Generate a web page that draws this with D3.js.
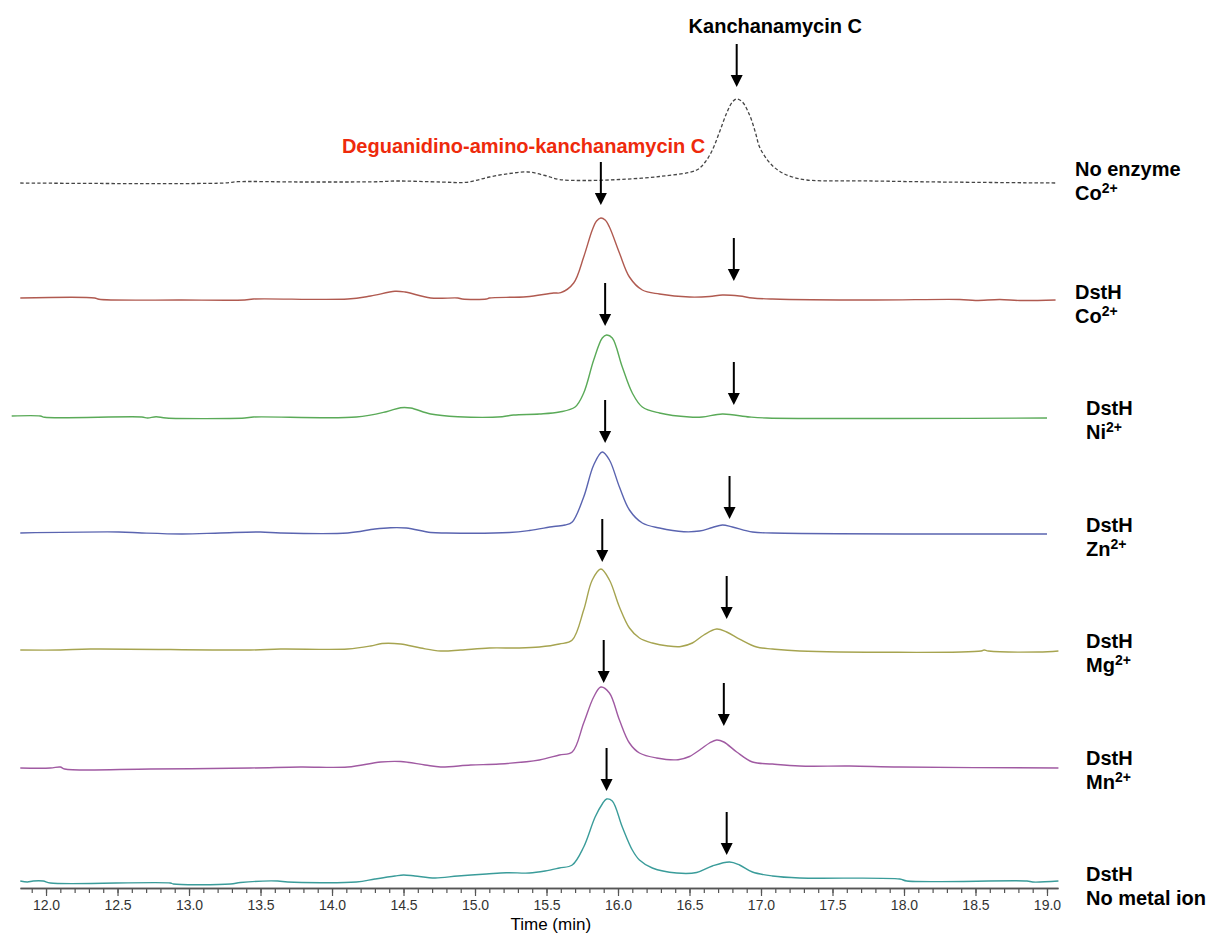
<!DOCTYPE html>
<html>
<head>
<meta charset="utf-8">
<script src="https://cdn.jsdelivr.net/npm/d3@7/dist/d3.min.js"></script>
<style>
  html, body { margin: 0; padding: 0; background: #fff; }
  svg { display: block; font-family: "Liberation Sans", Arial, sans-serif; }
</style>
</head>
<body>
<svg id="chart" width="1209" height="938"></svg>
<script>
// HPLC traces (time in min, absorbance in mAU above each trace's baseline)
const traceIds = ["noEnzymeCo", "dsthCo", "dsthNi", "dsthZn", "dsthMg", "dsthMn", "dsthNone"];

const noEnzymeCo = [
  [11.82, 0], [13.25, 0], [13.34, 1.3], [13.78, 1], [14.33, 1.3], [14.44, 2], [14.76, 1],
  [14.94, 0.7], [15.10, 6], [15.24, 9.5], [15.37, 11], [15.49, 7.5], [15.59, 3.5], [15.77, 2.5],
  [16.01, 3.5], [16.29, 6.5], [16.55, 13], [16.61, 21], [16.66, 33], [16.71, 51], [16.76, 70],
  [16.80, 81], [16.83, 84], [16.87, 81], [16.92, 68], [16.96, 51], [16.99, 36], [17.04, 24],
  [17.09, 16], [17.15, 10], [17.22, 6], [17.32, 3], [17.78, 2], [18.25, 1], [19.06, 0]
];

const dsthCo = [
  [11.82, 1.5], [12.34, 1.5], [12.37, 0.2], [12.95, -0.5], [13.39, -0.5], [13.45, 0.5],
  [14.11, 0.5], [14.27, 3.5], [14.44, 8.2], [14.51, 7.5], [14.69, 1.5], [14.88, 1.5], [14.91, 0.5],
  [15.08, 0.5], [15.10, 1.5], [15.36, 2.8], [15.55, 6.5], [15.60, 6.8], [15.69, 16.5],
  [15.76, 42.5], [15.82, 69.5], [15.85, 78.5], [15.88, 81.5], [15.91, 79.5], [15.94, 72.5],
  [16.01, 46.5], [16.08, 22.5], [16.17, 9.5], [16.29, 5.5], [16.50, 2.5], [16.64, 3],
  [16.73, 4.5], [16.85, 3.5], [16.94, 1.5], [17.08, 0.5], [17.78, -0.5], [18.39, 0],
  [18.50, -1], [18.67, 0], [18.81, -1], [19.06, -0.5]
];

const dsthNi = [
  [11.76, 0], [11.96, 0], [11.99, -1.3], [12.67, -1], [12.71, -2], [12.77, -0.7], [12.84, -2],
  [13.39, -2], [13.45, -1], [14.17, -1], [14.38, 4.3], [14.48, 8.3], [14.55, 8], [14.69, 2],
  [14.88, -0.7], [15.19, -0.7], [15.27, 1], [15.45, 2], [15.59, 4], [15.70, 9], [15.76, 23],
  [15.83, 56], [15.89, 78], [15.92, 81], [15.96, 78], [16.03, 49], [16.10, 23], [16.17, 9],
  [16.29, 3], [16.50, -1], [16.59, -1], [16.73, 2], [16.92, -1], [17.04, -2], [19.00, -2]
];

const dsthZn = [
  [11.82, -0.5], [12.51, 0.5], [12.67, -0.5], [12.95, -1.5], [13.22, -0.5], [13.50, 0.5],
  [13.64, -0.5], [14.11, -0.5], [14.30, 3.5], [14.41, 4.8], [14.52, 4.5], [14.69, 0],
  [14.80, -0.5], [15.24, 0], [15.38, 2], [15.55, 6], [15.63, 7.5], [15.68, 10.5], [15.76, 35.5],
  [15.83, 67.5], [15.89, 80.5], [15.94, 72.5], [16.01, 45.5], [16.08, 22.5], [16.17, 9.5],
  [16.29, 4.5], [16.46, 0.8], [16.57, 1.5], [16.66, 5], [16.73, 7.5], [16.80, 5.5], [16.94, 0.5],
  [17.08, -0.5], [19.00, -1.5]
];

const dsthMg = [
  [11.82, -1], [12.10, -1], [12.31, 0], [13.43, -1], [13.64, 0], [14.11, 0], [14.27, 3],
  [14.35, 5.5], [14.48, 5], [14.62, 1], [14.76, -2], [14.90, -1], [15.10, 1], [15.31, 1],
  [15.45, 2], [15.59, 5], [15.68, 9], [15.76, 39], [15.82, 69], [15.88, 80], [15.94, 69],
  [16.01, 42], [16.08, 21], [16.15, 11], [16.24, 6], [16.35, 3], [16.44, 2.5], [16.52, 6],
  [16.60, 14], [16.69, 20], [16.76, 17], [16.85, 10], [16.97, 2], [17.08, 0], [17.27, -2],
  [18.54, -2], [18.56, -1], [18.59, -2], [18.94, -3], [19.08, -2]
];

const dsthMn = [
  [11.82, -2.5], [12.03, -2.5], [12.10, -1.5], [12.13, -3.5], [12.73, -3.5], [13.43, -2.5],
  [13.78, -1.5], [14.11, -1.5], [14.34, 3.5], [14.48, 4], [14.65, 0.5], [14.76, -1.5],
  [14.97, 0.5], [15.17, 1.5], [15.45, 5.5], [15.59, 10.5], [15.68, 13.5], [15.76, 42.5],
  [15.83, 68.5], [15.88, 78.5], [15.94, 72.5], [16.01, 45.5], [16.08, 22.5], [16.15, 12.5],
  [16.27, 7.5], [16.42, 5.8], [16.50, 9], [16.58, 16.5], [16.64, 22.5], [16.69, 25.5],
  [16.74, 23.5], [16.83, 13.5], [16.94, 3.5], [17.08, 1.5], [17.27, -0.5], [17.62, -0.5],
  [17.97, -1.5], [19.08, -2.5]
];

const dsthNone = [
  [11.82, 1], [11.87, 0], [11.91, 1], [11.98, 1], [12.03, -1], [12.87, -1], [12.89, -2],
  [13.29, -2], [13.36, -0.5], [13.62, 1], [13.69, 0], [14.17, 0], [14.30, 3], [14.44, 6],
  [14.50, 7], [14.58, 6], [14.72, 4], [14.88, 6], [15.08, 8], [15.22, 9.3], [15.38, 9],
  [15.49, 11], [15.59, 14], [15.68, 17], [15.76, 35], [15.84, 65], [15.89, 78], [15.92, 83],
  [15.96, 81], [16.03, 55], [16.10, 32], [16.15, 22], [16.24, 14], [16.41, 9], [16.55, 9.5],
  [16.66, 16], [16.78, 20], [16.85, 17], [16.94, 10], [17.08, 6], [17.27, 4], [17.97, 3],
  [18.02, 1], [18.86, 1], [18.90, 0], [19.08, 1]
];

const traceValues = [noEnzymeCo, dsthCo, dsthNi, dsthZn, dsthMg, dsthMn, dsthNone];
const traceColors = ["#454545", "#b05a50", "#5aaa58", "#5a64b0", "#a6a450", "#a05aa2", "#3a9c9a"];

// Labels to the right of each trace
const labelTop = ["No enzyme", "DstH", "DstH", "DstH", "DstH", "DstH", "DstH"];
const labelIon = ["Co", "Co", "Ni", "Zn", "Mg", "Mn", "No metal ion"];
const labelCharge = ["2+", "2+", "2+", "2+", "2+", "2+", ""];

// Arrows: [trace index, retention time (min), arrow tip level (mAU)]
const arrows = [
  [0, 16.83, 96],
  [1, 15.88, 94.5], [1, 16.81, 18.5],
  [2, 15.91, 90], [2, 16.81, 11],
  [3, 15.91, 89.5], [3, 16.78, 13.5],
  [4, 15.89, 87], [4, 16.76, 30],
  [5, 15.90, 82.5], [5, 16.74, 39.5],
  [6, 15.92, 91], [6, 16.76, 27]
];

// Compound annotations: [text, centre time (min), level above trace 0 (mAU), colour]
const compounds = [
  ["Kanchanamycin C", 17.10, 150, "#000"],
  ["Deguanidino-amino-kanchanamycin C", 15.34, 30, "#ee2a0c"]
];

// Axis ticks
const majorTicks = [12.0, 12.5, 13.0, 13.5, 14.0, 14.5, 15.0, 15.5, 16.0, 16.5, 17.0, 17.5, 18.0, 18.5, 19.0];
const tenthTicks = d3.range(0, 72).map(i => +(11.9 + i * 0.1).toFixed(1));

const svg = d3.select("#chart");

const x = d3.scaleLinear().domain([11.818, 19.077]).range([20, 1058]);
const lane = d3.scalePoint().domain(traceIds).range([183, 882]);
const amp = d3.scaleLinear().domain([0, 100]).range([0, 100]);

const line = d3.line()
  .x(d => x(d[0]))
  .y(d => d.base - amp(d[1]))
  .curve(d3.curveCatmullRom.alpha(0.5));

traceValues.forEach((vals, i) => {
  const base = lane(traceIds[i]);
  const pts = vals.map(d => { const p = [d[0], d[1]]; p.base = base; return p; });
  svg.append("path")
    .attr("d", line(pts))
    .attr("fill", "none")
    .attr("stroke", traceColors[i])
    .attr("stroke-width", i === 0 ? 1.3 : 1.4)
    .attr("stroke-dasharray", i === 0 ? "3.5,2.2" : null)
    .attr("stroke-linejoin", "round");
});

// Arrows pointing down at the peaks
const arrowLen = 43, headLen = 12, headHalf = 6;
const arrowG = svg.append("g");
arrows.forEach(([ti, t, tip]) => {
  const ax = x(t);
  const ty = lane(traceIds[ti]) - amp(tip);
  arrowG.append("line")
    .attr("x1", ax).attr("x2", ax)
    .attr("y1", ty - arrowLen).attr("y2", ty - headLen + 1)
    .attr("stroke", "#000").attr("stroke-width", 2);
  arrowG.append("path")
    .attr("d", `M${ax - headHalf},${ty - headLen} L${ax + headHalf},${ty - headLen} L${ax},${ty} Z`)
    .attr("fill", "#000");
});

// Compound names
compounds.forEach(([txt, t, lvl, col]) => {
  svg.append("text")
    .attr("x", x(t))
    .attr("y", lane(traceIds[0]) - amp(lvl))
    .attr("text-anchor", "middle")
    .attr("font-size", 20)
    .attr("font-weight", "bold")
    .attr("fill", col)
    .text(txt);
});

// Condition labels
traceIds.forEach((id, i) => {
  const lx = i < 2 ? 1075 : 1086;
  const ly = lane(id) + (i === 0 ? -7 : -1);
  const g = svg.append("g").attr("font-size", 20).attr("font-weight", "bold").attr("fill", "#000");
  g.append("text").attr("x", lx).attr("y", ly).text(labelTop[i]);
  const t2 = g.append("text").attr("x", lx).attr("y", ly + 24);
  t2.append("tspan").text(labelIon[i]);
  if (labelCharge[i]) {
    t2.append("tspan").attr("dy", -7).attr("font-size", 14).text(labelCharge[i]);
  }
});

// Time axis
const axisY = 888;
const minorAxis = d3.axisBottom(x).tickValues(tenthTicks).tickSize(5).tickSizeOuter(0).tickFormat("");
const majorAxis = d3.axisBottom(x).tickValues(majorTicks).tickSize(8).tickSizeOuter(0).tickPadding(4)
  .tickFormat(d3.format(".1f"));

const gMinor = svg.append("g").attr("transform", `translate(0,${axisY})`).call(minorAxis);
const gMajor = svg.append("g").attr("transform", `translate(0,${axisY})`).call(majorAxis);
[gMinor, gMajor].forEach(g => {
  g.select(".domain").attr("stroke", "#555").attr("stroke-width", 1.6);
  g.selectAll(".tick line").attr("stroke", "#555").attr("stroke-width", 1.2);
});
gMajor.selectAll(".tick text")
  .attr("font-size", 14)
  .attr("fill", "#333")
  .attr("font-family", "'Liberation Sans', Arial, sans-serif");

svg.append("text")
  .attr("x", x(15.53))
  .attr("y", axisY + 42)
  .attr("text-anchor", "middle")
  .attr("font-size", 17)
  .attr("fill", "#000")
  .text("Time (min)");
</script>
</body>
</html>
